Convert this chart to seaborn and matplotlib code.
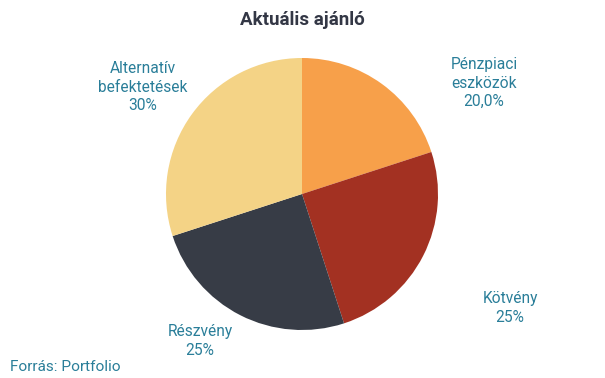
import matplotlib
matplotlib.use("Agg")
import matplotlib.pyplot as plt
import seaborn as sns

categories = ["Pénzpiaci\neszközök", "Kötvény", "Részvény", "Alternatív\nbefektetések"]
values = [20, 25, 25, 30]
value_labels = ["20,0%", "25%", "25%", "30%"]
colors = ["#F7A04A", "#A33122", "#373C46", "#F4D386"]

sns.set_theme(style="white")
plt.rcParams['font.family'] = ['Roboto', 'DejaVu Sans']

W, H = 605, 378
fig = plt.figure(figsize=(W / 100, H / 100), dpi=100)
ax = fig.add_axes([0, 0, 1, 1])

cx, cy, r = 302, 194, 136
# y axis is inverted below: start 270 points up on screen, and counterclock
# in data coordinates appears clockwise on screen
ax.pie(values, colors=colors, startangle=270, counterclock=True,
       center=(cx, cy), radius=r, frame=True,
       wedgeprops=dict(linewidth=0))
ax.set_xlim(0, W)
ax.set_ylim(H, 0)
ax.set_aspect('equal')
ax.axis('off')

label_offsets = [(182, -111), (208, 114), (-102, 147), (-159, -107)]
teal = "#2A7E99"
for cat, vl, (dx, dy) in zip(categories, value_labels, label_offsets):
    ax.text(cx + dx, cy + dy, f"{cat}\n{vl}", ha="center", va="center",
            fontsize=11.2, color=teal, linespacing=1.3)

ax.text(W / 2, 20, "Aktuális ajánló", ha="center", va="center",
        fontsize=13.5, fontweight="bold", color="#333745")
ax.text(10, 367, "Forrás: Portfolio", ha="left", va="center",
        fontsize=11.1, color=teal)

fig.savefig("out.png", dpi=100)
